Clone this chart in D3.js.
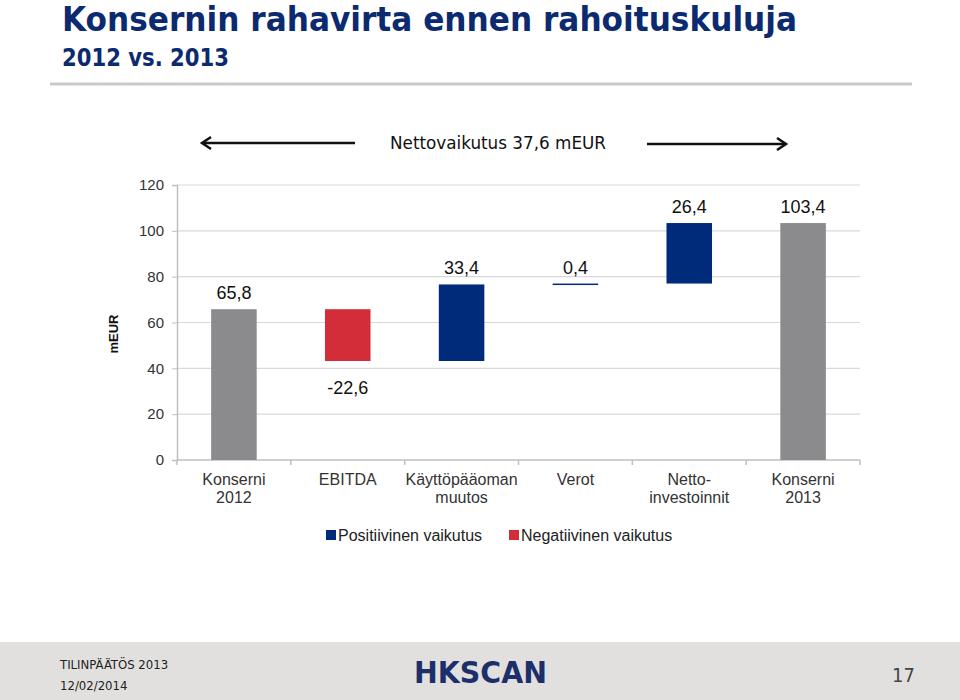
<!DOCTYPE html>
<html>
<head>
<meta charset="utf-8">
<script src="https://cdn.jsdelivr.net/npm/d3@7"></script>
<style>
  body { margin: 0; background: #fff; }
  svg { display: block; }
</style>
</head>
<body>
<div id="chart"></div>
<script>
// data
const categories = ["Konserni\n2012", "EBITDA", "Käyttöpääoman\nmuutos", "Verot", "Netto-\ninvestoinnit", "Konserni\n2013"];
const values = [65.8, -22.6, 33.4, 0.4, 26.4, 103.4];
const kinds = ["total", "neg", "pos", "pos", "pos", "total"];
const valueLabels = ["65,8", "-22,6", "33,4", "0,4", "26,4", "103,4"];
const yTicks = [0, 20, 40, 60, 80, 100, 120];
const legendItems = [
  { key: "pos", label: "Positiivinen vaikutus" },
  { key: "neg", label: "Negatiivinen vaikutus" }
];

const W = 960, H = 700;
const colors = { total: "#8b8b8d", pos: "#002b7a", neg: "#d32d3a" };
const navy = "#0b2a6f";
const font = "'Liberation Sans', Arial, sans-serif";
const narrow = "'Liberation Sans Narrow', 'DejaVu Sans Condensed', 'Liberation Sans', sans-serif";

const svg = d3.select("#chart").append("svg").attr("width", W).attr("height", H);

// ===============================
// HEADER
// ===============================
svg.append("text")
  .attr("x", 62).attr("y", 31)
  .attr("font-family", narrow).attr("font-weight", "bold")
  .attr("font-size", 34).attr("fill", navy)
  .attr("textLength", 735).attr("lengthAdjust", "spacingAndGlyphs")
  .text("Konsernin rahavirta ennen rahoituskuluja");

svg.append("text")
  .attr("x", 62).attr("y", 66)
  .attr("font-family", narrow).attr("font-weight", "bold")
  .attr("font-size", 25).attr("fill", navy)
  .attr("textLength", 167).attr("lengthAdjust", "spacingAndGlyphs")
  .text("2012 vs. 2013");

svg.append("line")
  .attr("x1", 50).attr("x2", 912).attr("y1", 84).attr("y2", 84)
  .attr("stroke", "#c9c9c9").attr("stroke-width", 3);

// ===============================
// SCALES
// ===============================
const plot = { left: 177, right: 860, top: 185, bottom: 460 };

const x = d3.scaleBand()
  .domain(d3.range(categories.length))
  .range([plot.left, plot.right])
  .paddingInner(0.6).paddingOuter(0.3);

const y = d3.scaleLinear().domain([0, 120]).range([plot.bottom, plot.top]);

// waterfall steps
let run = 0;
const bars = values.map((v, i) => {
  let lo, hi;
  if (kinds[i] === "total") { lo = 0; hi = v; run = v; }
  else { const next = run + v; lo = Math.min(run, next); hi = Math.max(run, next); run = next; }
  return { i, v, lo, hi, kind: kinds[i], label: valueLabels[i] };
});

// ===============================
// GRID + AXES
// ===============================
svg.append("g")
  .selectAll("line")
  .data(yTicks.filter(d => d > 0))
  .join("line")
  .attr("x1", plot.left).attr("x2", plot.right)
  .attr("y1", d => y(d)).attr("y2", d => y(d))
  .attr("stroke", "#d9d9d9").attr("stroke-width", 1.2);

const yAxis = svg.append("g")
  .attr("transform", `translate(${plot.left},0)`)
  .call(d3.axisLeft(y).tickValues(yTicks).tickSize(5).tickPadding(8));
yAxis.select(".domain").attr("stroke", "#bfbfbf").attr("stroke-width", 1.5);
yAxis.selectAll(".tick line").attr("stroke", "#bfbfbf");
yAxis.selectAll(".tick text")
  .attr("font-family", font).attr("font-size", 15).attr("fill", "#333");

// x axis baseline with category separators
const xAxis = svg.append("g");
xAxis.append("line")
  .attr("x1", plot.left).attr("x2", plot.right)
  .attr("y1", plot.bottom).attr("y2", plot.bottom)
  .attr("stroke", "#bfbfbf").attr("stroke-width", 1.5);

const edges = d3.range(categories.length + 1).map(k => plot.left + k * (plot.right - plot.left) / categories.length);
xAxis.selectAll(".sep")
  .data(edges)
  .join("line")
  .attr("x1", d => d).attr("x2", d => d)
  .attr("y1", plot.bottom).attr("y2", plot.bottom + 5)
  .attr("stroke", "#bfbfbf").attr("stroke-width", 1.5);

xAxis.selectAll(".cat")
  .data(categories)
  .join("text")
  .attr("x", (d, i) => x(i) + x.bandwidth() / 2)
  .attr("y", 485)
  .attr("text-anchor", "middle")
  .attr("font-family", font).attr("font-size", 16).attr("fill", "#333")
  .each(function (d) {
    d.split("\n").forEach((line, k) => {
      d3.select(this).append("tspan")
        .attr("x", d3.select(this).attr("x"))
        .attr("dy", k === 0 ? 0 : 18)
        .text(line);
    });
  });

// ===============================
// BARS
// ===============================
svg.append("g")
  .selectAll("rect")
  .data(bars)
  .join("rect")
  .attr("x", d => x(d.i))
  .attr("width", x.bandwidth())
  .attr("y", d => y(d.hi))
  .attr("height", d => Math.max(1.5, y(d.lo) - y(d.hi)))
  .attr("fill", d => colors[d.kind]);

svg.append("g")
  .selectAll("text")
  .data(bars)
  .join("text")
  .attr("x", d => x(d.i) + x.bandwidth() / 2)
  .attr("y", d => d.kind === "neg" ? y(d.lo) + 33 : y(d.hi) - 10)
  .attr("text-anchor", "middle")
  .attr("font-family", font).attr("font-size", 18).attr("fill", "#111")
  .text(d => d.label);

// y title
svg.append("text")
  .attr("transform", "translate(118,334) rotate(-90)")
  .attr("text-anchor", "middle")
  .attr("font-family", font).attr("font-weight", "bold")
  .attr("font-size", 13).attr("fill", "#111")
  .text("mEUR");

// ===============================
// NET EFFECT ANNOTATION
// ===============================
const ann = svg.append("g");
ann.append("text")
  .attr("x", 498).attr("y", 149)
  .attr("text-anchor", "middle")
  .attr("font-family", narrow).attr("font-size", 18).attr("fill", "#111")
  .attr("textLength", 216).attr("lengthAdjust", "spacingAndGlyphs")
  .text("Nettovaikutus 37,6 mEUR");

ann.append("line")
  .attr("x1", 204).attr("x2", 355).attr("y1", 143).attr("y2", 143)
  .attr("stroke", "#111").attr("stroke-width", 2.5);
ann.append("path")
  .attr("d", "M211,137 L202,143 L211,149")
  .attr("fill", "none").attr("stroke", "#111").attr("stroke-width", 2.5);
ann.append("line")
  .attr("x1", 647).attr("x2", 784).attr("y1", 144).attr("y2", 144)
  .attr("stroke", "#111").attr("stroke-width", 2.5);
ann.append("path")
  .attr("d", "M777,138 L786,144 L777,150")
  .attr("fill", "none").attr("stroke", "#111").attr("stroke-width", 2.5);

// ===============================
// LEGEND
// ===============================
const legendX = [326, 509];
const legend = svg.append("g")
  .selectAll("g")
  .data(legendItems)
  .join("g")
  .attr("transform", (d, i) => `translate(${legendX[i]},535)`);
legend.append("rect")
  .attr("x", 0).attr("y", -5).attr("width", 10).attr("height", 10)
  .attr("fill", d => colors[d.key]);
legend.append("text")
  .attr("x", 12).attr("y", 6)
  .attr("font-family", font).attr("font-size", 16).attr("fill", "#222")
  .text(d => d.label);

// ===============================
// FOOTER
// ===============================
svg.append("rect")
  .attr("x", 0).attr("y", 642).attr("width", W).attr("height", H - 642)
  .attr("fill", "#e1e0de");

svg.append("text")
  .attr("x", 60).attr("y", 669)
  .attr("font-family", narrow).attr("font-size", 13).attr("fill", "#222")
  .text("TILINPÄÄTÖS 2013");
svg.append("text")
  .attr("x", 60).attr("y", 690)
  .attr("font-family", narrow).attr("font-size", 13).attr("fill", "#222")
  .text("12/02/2014");

svg.append("text")
  .attr("x", 414).attr("y", 683)
  .attr("font-family", "'DejaVu Sans', sans-serif").attr("font-weight", "bold")
  .attr("font-size", 31).attr("fill", "#1d2f6b")
  .attr("textLength", 133).attr("lengthAdjust", "spacingAndGlyphs")
  .text("HKSCAN");

svg.append("text")
  .attr("x", 915).attr("y", 682)
  .attr("text-anchor", "end")
  .attr("font-family", narrow).attr("font-size", 20).attr("fill", "#444")
  .text("17");
</script>
</body>
</html>
